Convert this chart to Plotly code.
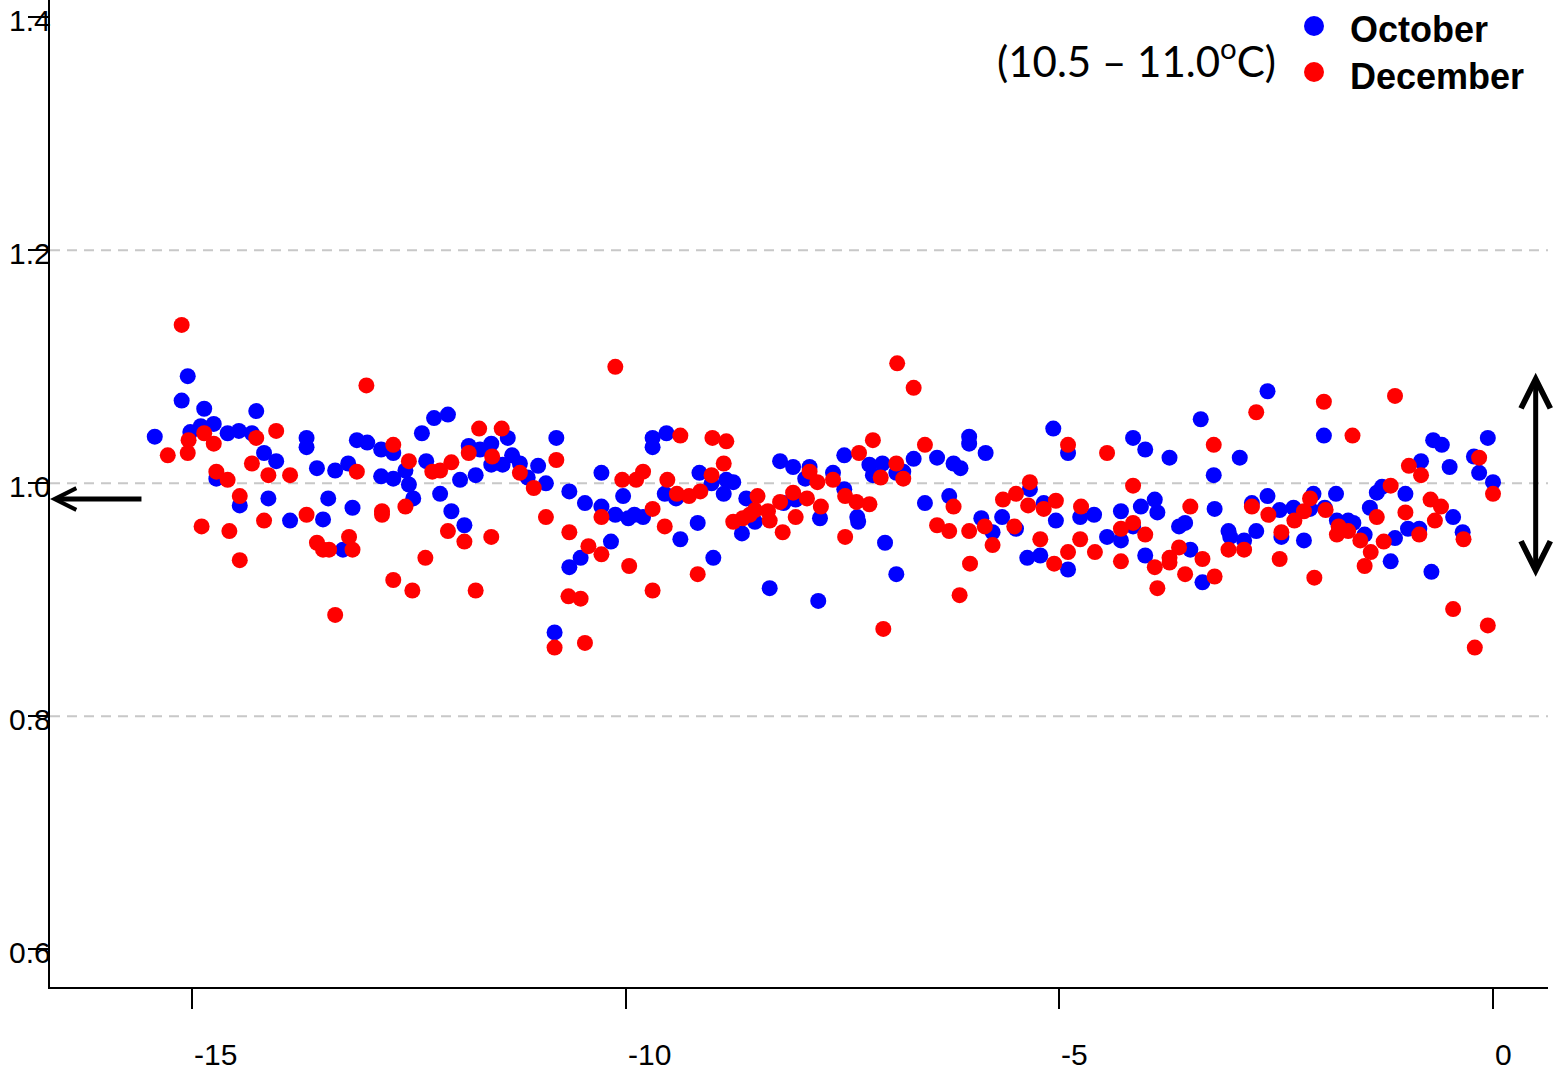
import plotly.graph_objects as go

# ---------------- data ----------------
oct_x = [-15.43,-15.05,-15.12,-14.86,-15.02,-14.90,-14.75,-14.72,-14.59,-14.46,
         -14.31,-14.26,-14.17,-14.03,-14.45,-14.12,-13.87,-13.68,-13.68,-13.56,
         -13.43,-13.49,-13.35,-13.20,-13.15,-13.26,-13.10,-12.98,-12.82,-12.68,
         -12.82,-12.68,-12.54,-12.50,-12.45,-12.35,-12.21,-12.05,-12.30,-12.14,
         -12.01,-11.86,-11.91,-11.81,-11.73,
         -11.68,-11.55,-11.36,-11.55,-11.42,-11.31,-11.22,-11.13,-11.01,-10.92,
         -10.80,-10.65,-10.47,-10.28,-10.12,-9.97,-9.90,-9.80,-10.28,-10.03,
         -10.17,-10.52,-10.65,-10.82,-9.69,-9.69,-9.53,-9.55,-9.42,-9.37,
         -9.15,-9.17,-8.99,-9.01,-8.87,-8.84,-8.76,-8.61,-8.66,-8.51,
         -8.34,-8.22,-8.07,-7.88,-7.93,-8.18,-8.04,-7.76,-7.78,-7.61,
         -7.48,-7.48,-7.33,-7.32,-7.19,-7.15,
         -7.04,-6.88,-6.80,-6.68,-6.41,-6.22,-6.14,-6.04,-6.04,-5.85,
         -5.07,-4.90,-6.55,-6.27,-7.01,-6.88,-5.90,-5.77,-5.66,-5.50,
         -5.34,-5.18,-5.04,-5.37,-5.22,-4.90,-4.76,
         -4.60,-4.29,-4.15,-4.01,-3.73,-4.06,-3.90,-3.87,-4.45,-4.29,
         -4.15,-4.01,-3.62,-3.55,-3.49,-3.35,-3.37,-3.22,-3.21,-3.05,
         -3.03,-2.87,-2.78,-2.73,-2.92,-2.60,-2.60,-2.46,-2.44,
         -1.95,-2.30,-2.18,-2.07,-2.11,-1.94,-1.81,-1.80,-1.67,-1.61,
         -1.48,-1.42,-1.34,-1.28,-1.13,-1.18,-1.01,-0.98,-0.85,-0.83,
         -0.69,-0.59,-0.50,-0.46,-0.35,-0.71,-0.22,-0.16,-0.06,0.0]
oct_y = [1.040,1.092,1.071,1.064,1.044,1.049,1.051,1.004,1.043,1.045,
         1.043,1.062,1.026,1.019,0.981,0.987,0.968,1.039,1.031,1.013,
         0.987,0.969,1.011,1.017,0.979,0.943,1.037,1.035,1.029,1.026,
         1.006,1.004,1.011,0.999,0.987,1.043,1.056,1.059,1.019,0.991,
         0.976,0.964,1.003,1.032,1.007,
         1.029,1.034,1.039,1.016,1.016,1.024,1.017,1.005,1.015,1.000,
         1.039,0.993,0.983,0.980,0.973,0.970,0.973,0.971,1.009,0.989,
         0.950,0.936,0.928,0.872,1.039,1.031,1.043,0.991,0.987,0.952,
         1.009,0.966,0.936,1.000,0.991,1.003,1.001,0.987,0.957,0.967,
         0.910,1.019,1.014,1.014,1.004,0.983,0.986,0.970,0.899,1.009,
         1.024,0.995,0.971,0.967,1.016,1.007,
         1.017,1.009,1.010,1.021,1.022,1.017,1.013,1.040,1.034,1.026,
         1.047,1.026,0.983,0.989,0.949,0.922,0.970,0.958,0.971,0.961,
         0.995,0.983,0.968,0.936,0.938,0.926,0.971,
         0.973,0.976,1.039,1.029,1.022,0.980,0.986,0.975,0.954,0.951,
         0.963,0.938,0.963,0.966,0.943,0.915,1.055,1.007,0.978,0.959,
         0.954,0.951,0.983,0.959,1.022,1.079,0.989,0.977,0.954,
         1.041,0.979,0.951,0.991,0.978,0.979,0.991,0.968,0.968,0.966,
         0.956,0.979,0.992,0.997,0.953,0.933,0.991,0.961,0.961,1.019,
         1.037,1.033,1.014,0.971,0.958,0.924,1.023,1.009,1.039,1.001]

dec_x = [-15.12,-15.28,-15.04,-15.05,-14.86,-14.75,-14.72,-14.59,-14.89,-14.57,
         -14.45,-14.45,-14.31,-14.26,-14.03,-14.12,-14.17,-13.87,-13.68,-13.56,
         -13.49,-13.42,-13.35,-13.19,-13.15,-13.10,-12.99,-12.81,-12.81,-12.68,
         -12.54,-12.50,-12.68,-12.46,-12.31,-12.23,-12.14,-12.01,-12.05,-11.86,
         -11.81,-11.69,-11.73,
         -11.43,-11.54,-11.22,-11.06,-10.92,-11.55,-10.80,-10.12,-10.65,-10.43,
         -10.28,-10.66,-10.52,-10.82,-10.47,-10.28,-10.04,-9.88,-9.80,-9.69,
         -9.55,-9.96,-9.69,-9.52,-9.41,-9.37,
         -9.00,-8.84,-8.87,-9.01,-9.27,-9.14,-9.17,-8.76,-8.65,-8.57,
         -8.51,-8.36,-8.34,-8.48,-8.22,-8.19,-8.07,-8.04,-7.91,-7.88,
         -7.79,-7.75,-7.61,-7.47,-7.47,-7.31,-7.34,-7.19,-7.15,-7.06,
         -7.03,
         -6.87,-6.68,-6.88,-6.80,-6.55,-6.22,-6.41,-6.27,-6.04,-5.86,
         -5.77,-6.03,-6.15,-5.65,-5.50,-5.36,-5.34,-5.18,-5.04,-5.52,
         -5.22,-5.06,-4.90,-4.90,-4.75,-4.76,
         -4.45,-4.15,-4.59,-4.29,-4.15,-4.01,-4.29,-3.90,-3.87,-3.73,
         -3.73,-3.62,-3.55,-3.49,-3.35,-3.21,-3.22,-3.05,-2.87,-2.78,
         -2.73,-2.59,-2.44,-2.46,
         -1.95,-1.13,-1.62,-0.97,-0.83,-0.16,0.0,-1.18,-2.11,-2.18,
         -2.29,-1.93,-2.06,-1.80,-1.78,-1.67,-1.53,-1.41,-1.48,-1.34,
         -1.26,-1.01,-0.85,-0.72,-0.60,-0.67,-0.34,-0.46,-0.06,-0.21]
dec_y = [1.136,1.024,1.037,1.026,1.043,1.034,1.010,1.003,0.963,0.959,
         0.989,0.934,1.017,1.039,1.045,1.007,0.968,1.007,0.973,0.949,
         0.943,0.943,0.887,0.954,0.943,1.010,1.084,0.976,0.973,1.033,
         0.980,1.019,0.917,0.908,0.936,1.010,1.011,1.018,0.959,0.950,
         1.026,1.047,0.908,
         1.047,1.023,1.009,0.996,0.971,0.954,1.020,1.100,0.958,0.946,
         0.939,0.903,0.901,0.859,0.863,0.971,1.003,1.003,1.010,0.978,
         0.963,0.929,0.908,1.003,0.991,1.041,
         1.039,1.036,1.017,1.007,0.989,0.993,0.922,0.967,0.970,0.973,
         0.977,0.976,0.968,0.989,0.984,0.958,0.992,0.971,0.987,1.010,
         1.001,0.980,1.003,0.989,0.954,1.026,0.984,0.982,1.037,1.005,
         0.875,
         1.103,1.082,1.017,1.004,1.033,0.980,0.964,0.959,0.959,0.963,
         0.947,0.931,0.904,0.986,0.991,0.981,1.001,0.978,0.985,0.963,
         0.952,0.931,1.033,0.941,0.980,0.952,
         1.026,0.998,0.941,0.961,0.966,0.956,0.933,0.928,0.910,0.936,
         0.932,0.945,0.922,0.980,0.935,0.920,1.033,0.943,0.943,0.980,
         1.061,0.973,0.958,0.935,
         1.070,1.075,1.041,1.015,1.007,1.022,0.991,0.998,0.987,0.976,
         0.968,0.977,0.919,0.956,0.963,0.959,0.951,0.941,0.929,0.971,
         0.950,0.975,0.956,0.986,0.980,0.968,0.952,0.892,0.878,0.859]

assert len(oct_x) == len(oct_y)
assert len(dec_x) == len(dec_y)

x_ticks = [-15, -10, -5, 0]
x_tick_labels = ["-15", "-10", "-5", "0"]
y_ticks = [0.6, 0.8, 1.0, 1.2, 1.4]
y_tick_labels = ["0.6", "0.8", "1.0", "1.2", "1.4"]
grid_y = [0.8, 1.0, 1.2]
series_names = ["October", "December"]
series_colors = ["#0000ff", "#ff0000"]
title_text = "(10.5 \u2013 11.0<sup>o</sup>C)"

# ---------------- figure ----------------
W, H = 1562, 1071
ML, MR, MT, MB = 50, 14, 0, 84
PW, PH = W - ML - MR, H - MT - MB


def px_to_paper(px, py):
    return (px - ML) / PW, (H - MB - py) / PH


X_RANGE = [-16.638, 0.634]
Y_RANGE = [0.5676, 1.4149]
TICK_FONT = dict(family="Liberation Sans, Arial, sans-serif", size=30, color="black")
LEG_FONT = dict(family="Liberation Sans, Arial, sans-serif", size=36, color="black")

fig = go.Figure()
fig.add_trace(go.Scatter(x=oct_x, y=oct_y, mode="markers", name=series_names[0],
                         marker=dict(color=series_colors[0], size=16, line=dict(width=0))))
fig.add_trace(go.Scatter(x=dec_x, y=dec_y, mode="markers", name=series_names[1],
                         marker=dict(color=series_colors[1], size=16, line=dict(width=0))))

shapes = []
for gy in grid_y:
    shapes.append(dict(type="line", xref="paper", yref="y", x0=0, x1=1, y0=gy, y1=gy,
                       line=dict(color="#c8c8c8", width=2, dash="10px,7px"), layer="below"))

annotations = []
for v, t in zip(x_ticks, x_tick_labels):
    annotations.append(dict(x=v, y=-0.068, xref="x", yref="paper", text=t, showarrow=False,
                            xanchor="left", yanchor="middle", font=TICK_FONT))
for v, t in zip(y_ticks, y_tick_labels):
    annotations.append(dict(x=-0.029, y=v, xref="paper", yref="y", yshift=-3, text=t,
                            showarrow=False, xanchor="left", yanchor="middle", font=TICK_FONT))

# title-like label
tx, ty = px_to_paper(995, 58)
annotations.append(dict(x=tx, y=ty, xref="paper", yref="paper", text=title_text,
                        showarrow=False, xanchor="left", yanchor="middle",
                        font=dict(family="Lato, Carlito, sans-serif", size=42, color="black")))

# legend (drawn by hand to match the reference spacing)
leg_rows = [26, 72]
for name, col, ry in zip(series_names, series_colors, leg_rows):
    cx, cy = px_to_paper(1314, ry)
    shapes.append(dict(type="circle", xref="paper", yref="paper", xsizemode="pixel",
                       ysizemode="pixel", xanchor=cx, yanchor=cy, x0=-10, x1=10, y0=-10, y1=10,
                       fillcolor=col, line=dict(width=0)))
    lx, ly = px_to_paper(1348, ry + 4)
    annotations.append(dict(x=lx, y=ly, xref="paper", yref="paper", text="<b>%s</b>" % name,
                            showarrow=False, xanchor="left", yanchor="middle", font=LEG_FONT))

# left arrow
annotations.append(dict(x=X_RANGE[0], y=0.9865, ax=-15.566, ay=0.9865, xref="x", yref="y",
                        axref="x", ayref="y", text="", showarrow=True, arrowhead=5,
                        arrowsize=0.85, arrowwidth=5, arrowcolor="black", standoff=0))
# double vertical arrow
annotations.append(dict(x=0.492, y=1.0949, ax=0.492, ay=0.9185, xref="x", yref="y",
                        axref="x", ayref="y", text="", showarrow=True, arrowside="end+start",
                        arrowhead=5, startarrowhead=5, arrowsize=1.15, startarrowsize=1.15,
                        arrowwidth=5, arrowcolor="black", standoff=0, startstandoff=0))

fig.update_layout(
    width=W, height=H,
    margin=dict(l=ML, r=MR, t=MT, b=MB),
    paper_bgcolor="white", plot_bgcolor="white",
    showlegend=False,
    shapes=shapes,
    annotations=annotations,
    hovermode=False,
)
fig.update_xaxes(range=X_RANGE, showgrid=False, zeroline=False, showline=True,
                 linecolor="black", linewidth=2, ticks="outside", ticklen=20, tickwidth=2,
                 tickcolor="black", tickvals=x_ticks, showticklabels=False)
fig.update_yaxes(range=Y_RANGE, showgrid=False, zeroline=False, showline=True,
                 linecolor="black", linewidth=2, ticks="outside", ticklen=20, tickwidth=2,
                 tickcolor="black", tickvals=y_ticks, showticklabels=False)

fig.write_html("out.html", config={"displayModeBar": False},
               post_script="document.body.style.margin='0';document.body.style.overflow='hidden';")
